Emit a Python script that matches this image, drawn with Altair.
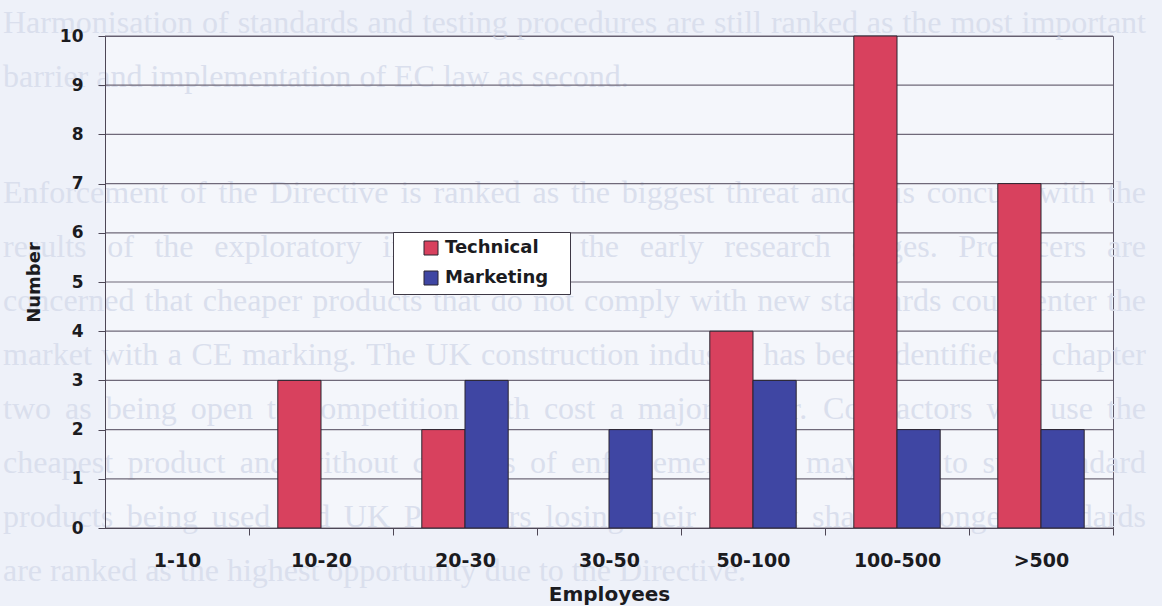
import altair as alt
import pandas as pd

# Survey responses by company size
categories = ["1-10", "10-20", "20-30", "30-50", "50-100", "100-500", ">500"]
technical = [0, 3, 2, 0, 4, 10, 7]
marketing = [0, 0, 3, 2, 3, 2, 2]
series = ["Technical", "Marketing"]
colors = ["#d8415e", "#3f46a3"]
y_ticks = list(range(0, 11))

# Page text printed behind the figure
page_paragraphs = [
    [
        "Harmonisation of standards and testing procedures are still ranked as the most important",
        "barrier and implementation of EC law as second.",
    ],
    [
        "Enforcement of the Directive is ranked as the biggest threat and this concurs with the",
        "results of the exploratory interviews at the early research stages.  Producers are",
        "concerned that cheaper products that do not comply with new standards could enter the",
        "market with a CE marking.  The UK construction industry has been identified in chapter",
        "two as being open to competition with cost a major factor.  Contractors will use the",
        "cheapest product and without controls of enforcement this may lead to sub-standard",
        "products being used and UK Producers losing their market share.  Stronger standards",
        "are ranked as the highest opportunity due to the Directive.",
    ],
]

# ---- layout ----
PLOT_W, PLOT_H = 1008, 492
PAD = {"left": 105, "top": 36, "right": 49, "bottom": 78}
PAGE_FONT = 32
PAGE_LEFT, PAGE_RIGHT = 3, 1146
PARA_BASELINES = [33, 203]
LINE_PITCH = 54

# x band layout: bars fill 60% of each category slot, ticks sit on slot edges
PAD_INNER, PAD_OUTER = 0.4, 0.2
STEP = PLOT_W / (len(categories) - PAD_INNER + 2 * PAD_OUTER)
EDGE_SHIFT = STEP * PAD_INNER / 2

# approximate serif advance widths (per 1000 em) for justifying the page text
_w = dict(zip("abcdefghijklmnopqrstuvwxyz",
              [444, 500, 444, 500, 444, 333, 500, 500, 278, 278, 500, 278, 778,
               500, 500, 500, 500, 333, 389, 278, 500, 500, 722, 500, 500, 444]))
_w.update(dict(zip("ABCDEFGHIJKLMNOPQRSTUVWXYZ",
                   [722, 667, 667, 722, 611, 556, 722, 722, 333, 389, 722, 611, 889,
                    722, 722, 556, 722, 667, 556, 611, 722, 722, 944, 722, 722, 611])))
_w.update({" ": 250, ".": 250, ",": 250, "-": 333})


def text_width(s):
    return sum(_w.get(c, 500) for c in s) * PAGE_FONT / 1000.0


words = []
for p, para in enumerate(page_paragraphs):
    for i, line in enumerate(para):
        toks = line.split()
        widths = [text_width(t) for t in toks]
        last = i == len(para) - 1
        if last or len(toks) < 2:
            gap = text_width(" ")
        else:
            gap = (PAGE_RIGHT - PAGE_LEFT - sum(widths)) / (len(toks) - 1)
        x = PAGE_LEFT
        base = PARA_BASELINES[p] + i * LINE_PITCH
        for t, w in zip(toks, widths):
            words.append({"word": t, "px": x - PAD["left"], "py": base - PAD["top"]})
            x += w + gap
words_df = pd.DataFrame(words)

rows = []
for c, t, m in zip(categories, technical, marketing):
    rows.append({"Employees": c, "Type": "Technical", "Number": t})
    rows.append({"Employees": c, "Type": "Marketing", "Number": m})
df = pd.DataFrame(rows)
grid_df = pd.DataFrame({"v": y_ticks})

INK = "#1b1b1f"
LINE = "#4d4756"
FONT = "DejaVu Sans"
y_scale = alt.Scale(domain=[0, 10], nice=False)

page_text = alt.Chart(words_df).mark_text(
    align="left", baseline="alphabetic", font="Liberation Serif",
    fontSize=PAGE_FONT, color="#dadfed"
).encode(
    x=alt.X("px:Q", scale=None, axis=None),
    y=alt.Y("py:Q", scale=None, axis=None),
    text="word:N",
)

gridlines = alt.Chart(grid_df).mark_rule(color="#6f6979", strokeWidth=1.2).encode(
    y=alt.Y("v:Q", scale=y_scale, axis=None)
)

# a blank braille cell widens the legend box on the right (plain spaces get trimmed)
legend_pad = "\u2800"

bars = alt.Chart(df).transform_filter("datum.Number > 0").mark_bar(
    stroke="#2a2530", strokeWidth=1
).encode(
    x=alt.X(
        "Employees:N",
        scale=alt.Scale(domain=categories, paddingInner=PAD_INNER, paddingOuter=PAD_OUTER),
        axis=alt.Axis(
            title="Employees", labelAngle=0, grid=False, zindex=1,
            bandPosition=1, tickOffset=EDGE_SHIFT, labelOffset=-EDGE_SHIFT,
            tickSize=7, tickColor=LINE, domainColor=LINE,
            labelFont=FONT, labelFontWeight="bold", labelFontSize=19,
            labelColor=INK, labelPadding=16,
            titleFont=FONT, titleFontWeight="bold", titleFontSize=20,
            titleColor=INK, titlePadding=14,
        ),
    ),
    xOffset=alt.XOffset("Type:N", scale=alt.Scale(domain=series)),
    y=alt.Y(
        "Number:Q",
        scale=y_scale,
        axis=alt.Axis(
            title="Number", values=y_ticks, grid=False, zindex=1,
            tickSize=7, tickColor=LINE, domainColor=LINE,
            labelFont=FONT, labelFontWeight="bold", labelFontSize=17,
            labelColor=INK, labelPadding=15,
            titleFont=FONT, titleFontWeight="bold", titleFontSize=18,
            titleColor=INK, titlePadding=16,
        ),
    ),
    color=alt.Color(
        "Type:N",
        scale=alt.Scale(domain=series, range=colors),
        legend=alt.Legend(
            title=None, orient="none", legendX=288, legendY=196,
            direction="vertical", fillColor="#ffffff", strokeColor="#3d3845",
            padding=7, symbolType="square", symbolSize=196,
            symbolStrokeColor="#2a2530", symbolStrokeWidth=1,
            symbolOffset=22, labelOffset=5, rowPadding=12,
            labelFont=FONT, labelFontWeight="bold", labelFontSize=18,
            labelColor=INK,
            labelExpr=f"datum.label + '{legend_pad}'",
        ),
    ),
)

chart = alt.layer(page_text, gridlines, bars).resolve_scale(
    x="independent", y="independent"
).properties(
    width=PLOT_W,
    height=PLOT_H,
    autosize=alt.AutoSizeParams(type="none"),
    padding=PAD,
).configure(
    background="#eef1f9"
).configure_view(
    fill="#f4f6fb", stroke="#5d5768", strokeWidth=1
)

chart.save("out.html", embed_options={"renderer": "svg", "actions": False})
